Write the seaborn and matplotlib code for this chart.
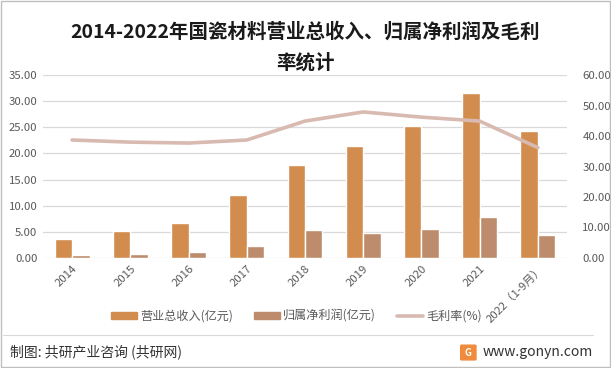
import numpy as np
import pandas as pd
import matplotlib
matplotlib.use("Agg")
import matplotlib.pyplot as plt
from matplotlib.patches import Patch, Rectangle, FancyBboxPatch
from matplotlib.lines import Line2D
import seaborn as sns

sns.set_theme(style="white")
plt.rcParams["font.family"] = ["Noto Sans CJK SC", "DejaVu Sans"]
plt.rcParams["axes.unicode_minus"] = False

# data
years = ["2014", "2015", "2016", "2017", "2018", "2019", "2020", "2021", "2022（1-9月）"]
revenue = [3.6, 5.2, 6.7, 12.0, 17.8, 21.4, 25.2, 31.5, 24.3]
net_profit = [0.6, 0.8, 1.2, 2.3, 5.4, 4.8, 5.5, 7.9, 4.4]
margin = [38.7, 38.0, 37.7, 38.7, 44.9, 47.9, 46.2, 44.9, 36.2]

rev_name = "营业总收入(亿元)"
np_name = "归属净利润(亿元)"
mg_name = "毛利率(%)"

c_rev = "#D28C4E"
c_np = "#BC8C6C"
c_mg = "#D8BAB0"
txt = "#595959"

bars = pd.DataFrame({
    "year": years * 2,
    "value": revenue + net_profit,
    "series": [rev_name] * len(years) + [np_name] * len(years),
})

fig = plt.figure(figsize=(6.11, 3.68), dpi=100)
ax = fig.add_axes([0.0704, 0.299, 0.8576, 0.497])

sns.barplot(data=bars, x="year", y="value", hue="series", ax=ax,
            palette=[c_rev, c_np], width=0.6, saturation=1, legend=False)
ax.set_ylim(0, 35)
ax.set_yticks(np.arange(0, 36, 5))
ax.set_yticklabels([f"{v:.2f}" for v in np.arange(0, 36, 5)], color=txt, fontsize=8.2)
ax.yaxis.grid(True, color="#D9D9D9", linewidth=0.9)
ax.set_axisbelow(True)
ax.set_xlabel("")
ax.set_ylabel("")
for s in ax.spines.values():
    s.set_visible(False)
ax.tick_params(axis="both", length=0, pad=4)
ax.set_xticks(range(len(years)))
ax.set_xticklabels(years, rotation=45, ha="right", rotation_mode="anchor",
                   color=txt, fontsize=8.2)

ax2 = ax.twinx()
mg = pd.DataFrame({"year": years, "margin": margin})
sns.pointplot(data=mg, x="year", y="margin", ax=ax2, color=c_mg,
              markers="", linewidth=2.6)
ax2.set_ylim(0, 60)
ax2.set_yticks(np.arange(0, 61, 10))
ax2.set_yticklabels([f"{v:.2f}" for v in np.arange(0, 61, 10)], color=txt, fontsize=8.2)
ax2.set_ylabel("")
ax2.set_xlabel("")
for s in ax2.spines.values():
    s.set_visible(False)
ax2.tick_params(axis="both", length=0, pad=11)
ax2.grid(False)
ax.set_xlim(-0.5, len(years) - 0.5)

fig.text(0.5, 0.913, "2014-2022年国瓷材料营业总收入、归属净利润及毛利",
         ha="center", va="center", fontsize=14, fontweight="bold", color="#1a1a1a")
fig.text(0.5, 0.829, "率统计", ha="center", va="center",
         fontsize=14, fontweight="bold", color="#1a1a1a")

handles = [Patch(color=c_rev), Patch(color=c_np), Line2D([0], [0], color=c_mg, lw=2.6)]
fig.legend(handles, [rev_name, np_name, mg_name], loc="center",
           bbox_to_anchor=(0.485, 0.141), ncol=3, frameon=False,
           fontsize=8.7, labelcolor=txt, handlelength=2.2, handleheight=0.6,
           columnspacing=1.7, handletextpad=0.25)

# footer
fig.add_artist(Line2D([0.005, 0.97], [0.09, 0.09], color="#D9D9D9", lw=0.8))
fig.text(0.016, 0.043, "制图: 共研产业咨询 (共研网)", ha="left", va="center",
         fontsize=10, color="#333333")
fig.add_artist(FancyBboxPatch((0.756, 0.024), 0.021, 0.036,
                              boxstyle="round,pad=0.002", color="#F08A3C",
                              transform=fig.transFigure))
fig.text(0.7665, 0.042, "G", ha="center", va="center", fontsize=7,
         fontweight="bold", color="white")
fig.text(0.79, 0.043, "www.gonyn.com", ha="left", va="center",
         fontsize=10, color="#333333")
fig.add_artist(Rectangle((0.002, 0.003), 0.996, 0.994, fill=False,
                         edgecolor="#BFBFBF", lw=1, transform=fig.transFigure))

fig.savefig("out.png", dpi=100)
